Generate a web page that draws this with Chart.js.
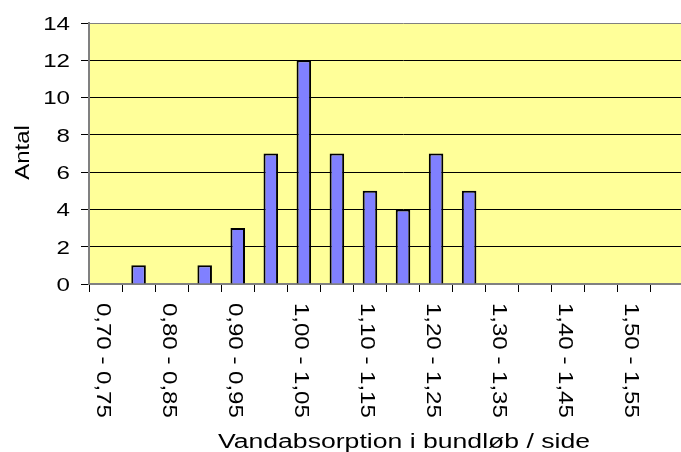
<!DOCTYPE html>
<html><head><meta charset="utf-8">
<script src="https://cdn.jsdelivr.net/npm/chart.js@4/dist/chart.umd.min.js"></script>
<style>
html,body{margin:0;padding:0;background:#fff;overflow:hidden;width:681px;height:452px}
#wrap{position:absolute;left:0;top:0;width:730px;height:452px}
</style>
</head><body>
<div id="wrap"><canvas id="c" width="730" height="452"></canvas></div>
<script>
// ---- data ----
const categories = [
  "0,70 - 0,75", "0,75 - 0,80", "0,80 - 0,85", "0,85 - 0,90", "0,90 - 0,95",
  "0,95 - 1,00", "1,00 - 1,05", "1,05 - 1,10", "1,10 - 1,15", "1,15 - 1,20",
  "1,20 - 1,25", "1,25 - 1,30", "1,30 - 1,35", "1,35 - 1,40", "1,40 - 1,45",
  "1,45 - 1,50", "1,50 - 1,55", "1,55 - 1,60", "1,60 - 1,65"
];
const counts = [0, 1, 0, 1, 3, 7, 12, 7, 5, 4, 7, 5, 0, 0, 0, 0, 0, 0, 0];
const yMin = 0, yMax = 14, yStep = 2;
const xTitle = "Vandabsorption i bundløb / side";
const yTitle = "Antal";

const FONT = '"Liberation Sans", Arial, sans-serif';

function stretchText(ctx, text, x, y, angle, sx, align, baseline, size) {
  ctx.save();
  ctx.translate(x, y);
  ctx.rotate(angle);
  ctx.scale(sx, 1);
  ctx.font = size + 'px ' + FONT;
  ctx.textAlign = align;
  ctx.textBaseline = baseline;
  ctx.fillStyle = '#000';
  ctx.fillText(text, 0, 0);
  ctx.restore();
}

const excelLook = {
  id: 'excelLook',
  beforeDraw(chart) {
    const { ctx, chartArea: a } = chart;
    ctx.save();
    ctx.fillStyle = '#FFFF99';
    ctx.fillRect(a.left, a.top, a.right - a.left, a.bottom - a.top);
    ctx.restore();
  },
  afterDraw(chart) {
    const { ctx, chartArea: a } = chart;
    const xs = chart.scales.x, ys = chart.scales.y;
    // y tick labels
    ys.ticks.forEach(t => {
      const y = ys.getPixelForValue(t.value);
      stretchText(ctx, String(t.value), a.left - 19, y + 6.8, 0, 1.27, 'right', 'alphabetic', 19);
    });
    // x tick labels (every other category), rotated clockwise
    categories.forEach((lab, i) => {
      if (i % 2 !== 0) return;
      const x = xs.getPixelForValue(i);
      stretchText(ctx, lab, x - 9, a.bottom + 19, Math.PI / 2, 1.2, 'left', 'alphabetic', 20);
    });
    // y title
    stretchText(ctx, yTitle, 29, (a.top + a.bottom) / 2 - 1, -Math.PI / 2, 1.2, 'center', 'alphabetic', 20);
    // x title
    stretchText(ctx, xTitle, (a.left + a.right) / 2 + 1, 447.5, 0, 1.33, 'center', 'alphabetic', 20);
  }
};

new Chart(document.getElementById('c'), {
  type: 'bar',
  data: {
    labels: categories,
    datasets: [{
      data: counts,
      backgroundColor: '#8080FF',
      borderColor: '#000000',
      borderWidth: 2,
      barPercentage: 0.44,
      categoryPercentage: 1.0
    }]
  },
  options: {
    responsive: false,
    animation: false,
    devicePixelRatio: 1,
    layout: { padding: { top: 23, right: 13, left: 0, bottom: 0 } },
    plugins: { legend: { display: false }, tooltip: { enabled: false } },
    scales: {
      x: {
        type: 'category',
        offset: true,
        grid: { display: true, drawOnChartArea: false, drawTicks: true, tickLength: 8, color: '#000', offset: true },
        border: { display: true, color: '#808080', width: 2 },
        ticks: { display: false },
        afterFit(s) { s.height = 168; }
      },
      y: {
        min: yMin, max: yMax,
        ticks: { stepSize: yStep, display: false },
        grid: {
          color: c => (c.tick && c.tick.value === yMax) ? '#808080' : '#000',
          tickColor: '#000', tickLength: 8, lineWidth: 1
        },
        border: { display: true, color: '#808080', width: 2 },
        afterFit(s) { s.width = 89; }
      }
    }
  },
  plugins: [excelLook]
});
</script>
</body></html>
